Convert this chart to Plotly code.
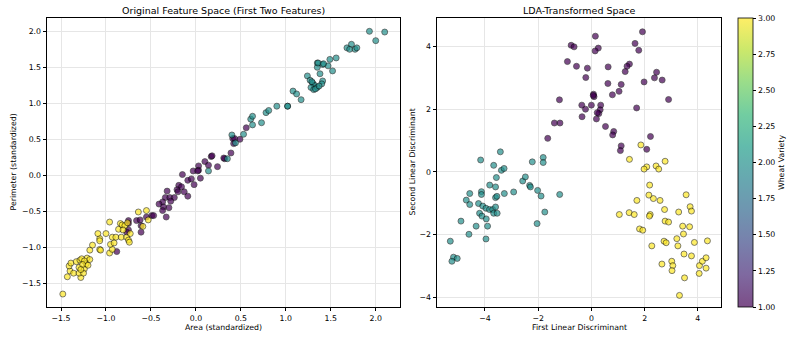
import plotly.graph_objects as go
import plotly.colors as pc

# ---------------- Data ----------------
# Left panel: standardized Area vs Perimeter, per wheat variety
area_v1 = [0.41, 0.43, 0.42, 0.49, 0.56, 0.39, 0.32, 0.31, 0.17, 0.18, 0.10, 0.14, 0.03, 0.24,
           -0.03, 0.03, -0.15, 0.02, 0.05, -0.09, -0.05, -0.02, -0.19, -0.16, -0.21, -0.13, -0.09,
           -0.32, -0.34, -0.29, -0.24, -0.28, -0.37, -0.41, -0.36, -0.37, -0.33, -0.49, -0.47,
           -0.55, -0.66, -0.62, -0.61, -0.61, -0.75, -0.75, -0.75, -0.77, -0.88, -0.30, -0.20]
perim_v1 = [0.51, 0.51, 0.44, 0.50, 0.66, 0.31, 0.23, 0.24, 0.26, 0.27, 0.19, 0.14, 0.13, 0.12,
            0.06, 0.07, 0.01, 0.06, -0.04, -0.07, -0.05, -0.13, -0.14, -0.16, -0.20, -0.23, -0.29,
            -0.22, -0.31, -0.31, -0.31, -0.36, -0.37, -0.40, -0.44, -0.49, -0.58, -0.56, -0.56,
            -0.58, -0.63, -0.62, -0.70, -0.79, -0.63, -0.67, -0.76, -0.79, -1.06, -0.45, -0.23]

area_v2 = [1.93, 2.10, 2.00, 1.68, 1.73, 1.71, 1.77, 1.79, 1.35, 1.49, 1.56, 1.35, 1.41, 1.47,
           1.52, 1.24, 1.38, 1.27, 1.30, 1.32, 1.41, 1.40, 1.28, 1.31, 1.35, 1.33, 1.29, 1.37,
           1.08, 1.12, 1.17, 1.02, 1.02, 0.90, 0.78, 0.81, 0.61, 0.63, 0.63, 0.73, 0.40, 0.53,
           0.44, 0.35, 0.14, 1.36, 1.42]
perim_v2 = [2.00, 1.99, 1.87, 1.77, 1.82, 1.75, 1.75, 1.77, 1.56, 1.61, 1.63, 1.50, 1.54, 1.52,
            1.45, 1.38, 1.41, 1.32, 1.28, 1.25, 1.31, 1.27, 1.22, 1.19, 1.22, 1.20, 1.30, 1.24,
            1.17, 1.13, 1.05, 0.96, 0.96, 0.96, 0.87, 0.90, 0.78, 0.82, 0.70, 0.73, 0.56, 0.57,
            0.45, 0.23, 0.06, 1.56, 1.55]

area_v3 = [-1.48, -1.43, -1.40, -1.41, -1.39, -1.33, -1.36, -1.29, -1.27, -1.30, -1.28, -1.30,
           -1.24, -1.25, -1.22, -1.21, -1.18, -1.24, -1.18, -1.15, -1.07, -1.06, -0.96, -0.93,
           -0.95, -0.91, -0.93, -0.89, -1.07, -1.07, -1.09, -1.00, -0.96, -0.86, -0.84, -0.82,
           -0.79, -0.83, -0.77, -0.75, -0.74, -0.73, -0.76, -0.81, -0.64, -0.59, -0.55, -0.53,
           -1.26, -1.20, -1.28]
perim_v3 = [-1.65, -1.41, -1.33, -1.26, -1.22, -1.20, -1.36, -1.18, -1.16, -1.28, -1.42, -1.36,
            -1.30, -1.36, -1.23, -1.15, -1.17, -1.19, -1.04, -0.97, -1.03, -1.04, -1.08, -1.03,
            -0.96, -0.94, -0.86, -0.86, -0.88, -0.91, -0.81, -0.81, -0.65, -0.75, -0.67, -0.69,
            -0.70, -0.86, -0.86, -0.90, -0.93, -0.81, -0.66, -0.76, -0.51, -0.71, -0.49, -0.62,
            -1.24, -1.25, -1.31]

# Right panel: LDA-transformed space, per wheat variety
ld1_v1 = [1.92, 0.15, -0.76, -0.65, 0.26, 0.14, 1.64, 1.78, -0.90, -0.56, -0.15, 0.63, 1.43, 1.34,
          1.27, 2.45, 2.37, 2.66, 1.98, -0.21, 0.62, 1.12, 1.04, 0.79, 0.08, 0.10, 0.07, 2.90,
          -1.20, -0.36, 0.00, 0.35, -0.22, 0.33, 1.70, 0.28, 0.22, -0.35, 0.19, -1.39, -1.18,
          0.53, 0.84, 0.80, 2.22, -1.64, 1.12, 1.09, 2.08]
ld2_v1 = [4.47, 4.33, 4.04, 3.99, 3.95, 3.86, 4.10, 3.88, 3.52, 3.37, 3.31, 3.35, 3.44, 3.37,
          3.20, 3.18, 3.00, 2.93, 2.87, 3.01, 2.82, 2.79, 2.57, 2.46, 2.48, 2.40, 2.44, 2.31,
          2.30, 2.13, 2.13, 2.13, 2.00, 1.98, 2.04, 1.86, 1.89, 1.76, 1.69, 1.56, 1.56,
          1.45, 1.29, 1.18, 1.13, 1.07, 0.83, 0.68, 0.72]

ld1_v2 = [-4.16, -3.42, -3.67, -3.38, -3.28, -2.22, -1.81, -1.81, -3.57, -3.82, -3.60, -4.13,
          -4.13, -4.57, -4.70, -4.57, -4.24, -4.08, -3.96, -3.83, -3.71, -3.60, -3.60, -3.55,
          -3.27, -2.92, -2.58, -2.48, -2.32, -2.29, -2.02, -1.89, -1.19, -1.75, -2.04, -4.20,
          -4.11, -3.95, -3.67, -3.54, -4.90, -4.33, -3.90, -4.60, -3.96, -5.30, -5.18, -5.04, -5.24]
ld2_v2 = [0.38, 0.64, 0.21, 0.05, 0.11, 0.32, 0.46, 0.30, -0.18, -0.42, -0.48, -0.63,
          -0.72, -0.69, -0.90, -1.04, -1.01, -1.09, -1.16, -1.20, -1.20, -1.12, -0.82, -0.78,
          -0.69, -0.64, -0.29, -0.16, -0.43, -0.48, -0.59, -0.77, -0.72, -1.28, -1.65, -1.32,
          -1.41, -1.50, -1.32, -1.32, -1.57, -1.73, -1.73, -1.99, -2.14, -2.21, -2.72, -2.76, -2.85]

ld1_v3 = [1.86, 1.43, 2.08, 1.98, 2.43, 2.53, 2.77, 2.19, 2.16, 2.33, 2.58, 1.71, 3.56, 1.05,
          1.42, 1.61, 2.21, 2.18, 2.75, 3.28, 3.71, 3.76, 1.81, 1.93, 2.77, 2.90, 3.43, 3.69,
          3.46, 2.73, 2.81, 2.27, 3.21, 3.25, 3.87, 4.36, 3.48, 3.76, 2.65, 3.02, 3.06, 3.03,
          4.06, 4.17, 4.31, 4.31, 4.05, 3.50, 3.31]
ld2_v3 = [0.86, 0.40, 0.16, 0.09, 0.19, 0.09, 0.34, -0.42, -0.74, -0.85, -0.91, -0.91, -0.73, -1.36,
          -1.30, -1.36, -1.36, -1.41, -1.20, -1.28, -1.11, -1.25, -1.82, -1.86, -1.57, -1.60, -1.73, -1.75,
          -1.98, -2.21, -2.26, -2.36, -2.13, -2.36, -2.25, -2.20, -2.62, -2.68, -2.94, -2.85, -2.99, -3.15,
          -2.99, -2.85, -2.74, -3.07, -3.24, -3.38, -3.94]

varieties = [1, 2, 3]
cbar_ticks = [1.00, 1.25, 1.50, 1.75, 2.00, 2.25, 2.50, 2.75, 3.00]

# ---------------- Styling ----------------
FONT = "DejaVu Sans"
TICK_SIZE = 7.8
TITLE_SIZE = 9.5
viridis = pc.sequential.Viridis
cmin, cmax = 1, 3


def blend(hexcol, alpha=0.7):
    r, g, b = pc.hex_to_rgb(hexcol)
    f = lambda c: int(round(alpha * c + (1 - alpha) * 255))
    return f"rgb({f(r)},{f(g)},{f(b)})"


cscale_faded = [[i / (len(viridis) - 1), blend(c)] for i, c in enumerate(viridis)]

fig = go.Figure()

left_sets = [(area_v1, perim_v1, 1), (area_v2, perim_v2, 2), (area_v3, perim_v3, 3)]
right_sets = [(ld1_v1, ld2_v1, 1), (ld1_v2, ld2_v2, 2), (ld1_v3, ld2_v3, 3)]

for xs, ys, v in left_sets:
    fig.add_trace(go.Scatter(
        x=xs, y=ys, mode="markers", xaxis="x", yaxis="y", showlegend=False,
        marker=dict(size=6, color=[v] * len(xs), colorscale="Viridis", cmin=cmin, cmax=cmax,
                    opacity=0.7, line=dict(color="black", width=0.7))))

for xs, ys, v in right_sets:
    fig.add_trace(go.Scatter(
        x=xs, y=ys, mode="markers", xaxis="x2", yaxis="y2", showlegend=False,
        marker=dict(size=6, color=[v] * len(xs), colorscale="Viridis", cmin=cmin, cmax=cmax,
                    opacity=0.7, line=dict(color="black", width=0.7))))

# colorbar carrier
fig.add_trace(go.Scatter(
    x=[None, None], y=[None, None], mode="markers", xaxis="x2", yaxis="y2", showlegend=False,
    hoverinfo="skip",
    marker=dict(color=[cmin, cmax], colorscale=cscale_faded, cmin=cmin, cmax=cmax, showscale=True,
                colorbar=dict(
                    x=738 / 800, xanchor="left", y=1 - 162.5 / 338, yanchor="middle",
                    len=289 / 338, lenmode="fraction", thickness=15, thicknessmode="pixels",
                    outlinewidth=0.8, outlinecolor="black",
                    tickmode="array", tickvals=cbar_ticks, ticktext=[f"{t:.2f}" for t in cbar_ticks],
                    ticks="outside", ticklen=3.5, tickwidth=0.8, tickcolor="black",
                    tickfont=dict(family=FONT, size=TICK_SIZE, color="black"),
                    title=dict(text="Wheat Variety", side="right",
                               font=dict(family=FONT, size=TICK_SIZE, color="black")),
                    xpad=0, ypad=0))))

axis_common = dict(showgrid=True, gridcolor="#e6e6e6", gridwidth=0.8, zeroline=False,
                   showline=True, mirror=True, linecolor="black", linewidth=0.8,
                   ticks="outside", ticklen=3.5, tickwidth=0.8, tickcolor="black",
                   tickfont=dict(family=FONT, size=TICK_SIZE, color="black"))

Y0, Y1 = 1 - 307 / 338, 1 - 18 / 338

fig.update_layout(
    width=800, height=338, margin=dict(l=0, r=0, t=0, b=0),
    paper_bgcolor="white", plot_bgcolor="white",
    font=dict(family=FONT, color="black"),
    xaxis=dict(domain=[47 / 800, 400 / 800], range=[-1.656, 2.27],
               tickvals=[-1.5, -1.0, -0.5, 0.0, 0.5, 1.0, 1.5, 2.0], tickformat=".1f",
               anchor="y", **axis_common),
    yaxis=dict(domain=[Y0, Y1], range=[-1.83, 2.185],
               tickvals=[-1.5, -1.0, -0.5, 0.0, 0.5, 1.0, 1.5, 2.0], tickformat=".1f",
               anchor="x", **axis_common),
    xaxis2=dict(domain=[437 / 800, 721 / 800], range=[-5.8, 4.87],
                tickvals=[-4, -2, 0, 2, 4], anchor="y2", **axis_common),
    yaxis2=dict(domain=[Y0, Y1], range=[-4.31, 4.91],
                tickvals=[-4, -2, 0, 2, 4], anchor="x2", **axis_common),
)

ann_font = dict(family=FONT, size=TICK_SIZE, color="black")
title_font = dict(family=FONT, size=TITLE_SIZE, color="black")
annotations = [
    dict(text="Original Feature Space (First Two Features)", x=223.5 / 800, y=1 - 10 / 338,
         font=title_font),
    dict(text="LDA-Transformed Space", x=579 / 800, y=1 - 10 / 338, font=title_font),
    dict(text="Area (standardized)", x=223.5 / 800, y=1 - 327 / 338, font=ann_font),
    dict(text="First Linear Discriminant", x=579 / 800, y=1 - 327 / 338, font=ann_font),
    dict(text="Perimeter (standardized)", x=13 / 800, y=1 - 162.5 / 338, textangle=-90,
         font=ann_font),
    dict(text="Second Linear Discriminant", x=412 / 800, y=1 - 162.5 / 338, textangle=-90,
         font=ann_font),
]
for a in annotations:
    a.update(xref="paper", yref="paper", showarrow=False, xanchor="center", yanchor="middle")
fig.update_layout(annotations=annotations)

fig.write_html("out.html")
